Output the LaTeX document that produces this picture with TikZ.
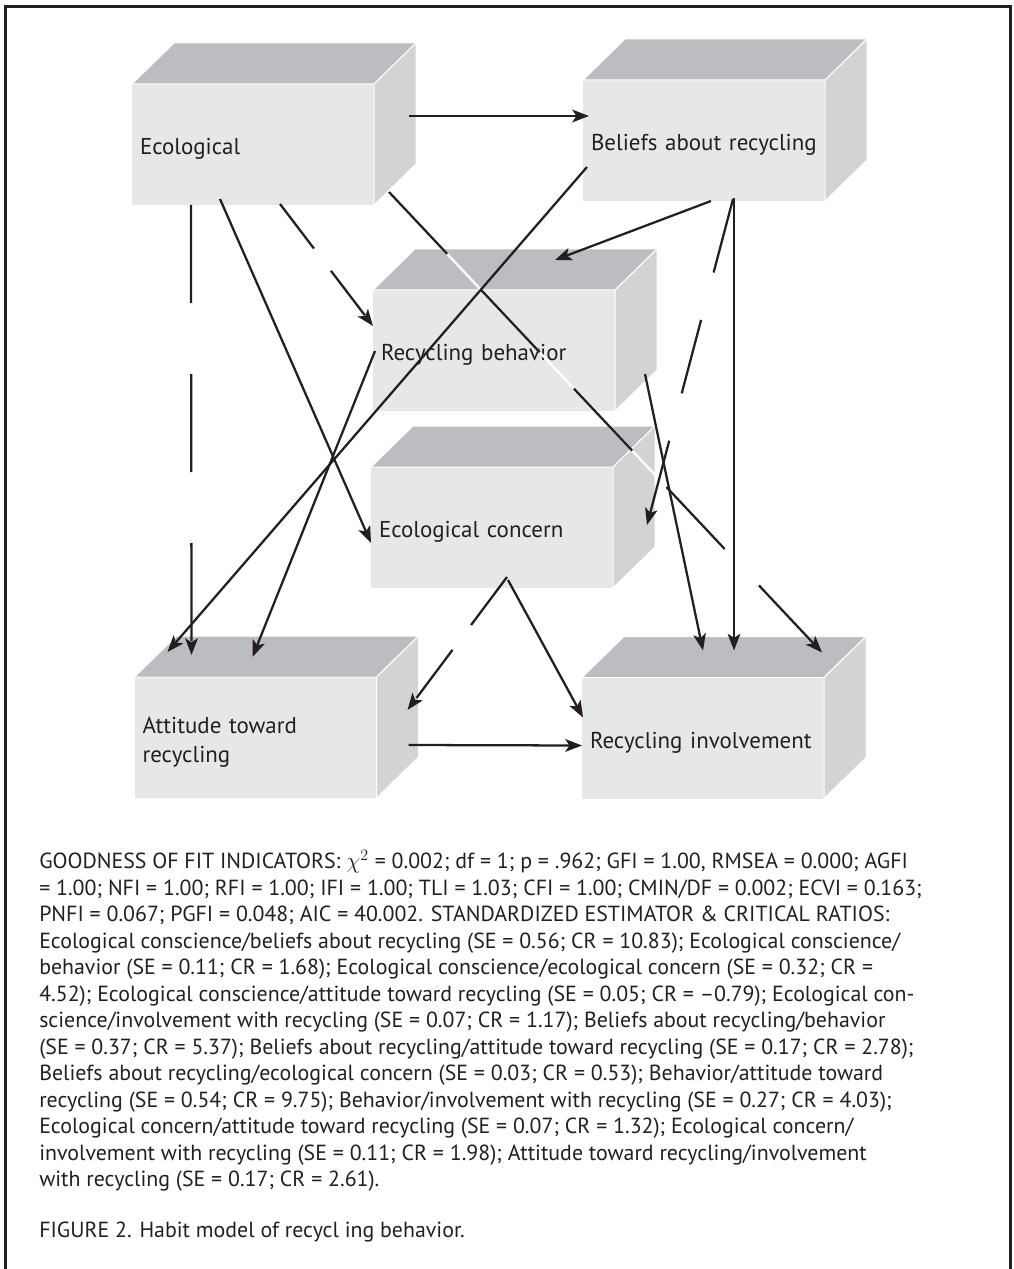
\documentclass[tikz,border=0pt]{standalone}
\usepackage{fontspec}
\setmainfont{PT Sans}
\usetikzlibrary{arrows.meta}
\definecolor{ink}{HTML}{231F20}
\definecolor{boxfront}{HTML}{E6E7E8}
\definecolor{boxtop}{HTML}{BCBDC0}
\definecolor{boxside}{HTML}{D1D3D4}

\begin{document}
\begin{tikzpicture}[x=0.75pt, y=-0.75pt,
		every node/.style={text=ink, font=\fontsize{17.2}{21.75}\selectfont},
		cube/.style={fill=boxfront, outer sep=0pt, inner ysep=0pt, inner xsep=6pt, text width=169.5pt, minimum height=90.75pt, align=left, text height=15pt, text depth=0pt},
		link/.style={draw=ink, line width=1.7pt, -{Stealth[length=12.5pt, width=9.5pt, inset=3pt]}},
		gapped/.style={link, dash pattern=#1}]
	\useasboundingbox (0,0) rectangle (1013,1269);
	\draw[ink, line width=2.25pt] (5,1269) -- (5,7) -- (1010,7) -- (1010,1269);

	\node[cube] (eco) at (253,144.5) {Ecological};
	\node[cube] (bel) at (704,140.5) {Beliefs about recycling};
	\node[cube] (beh) at (494,350.5) {Recycling behavior};
	\node[cube] (conc) at (492,527.5) {Ecological concern};
	\node[cube, text depth=21.75pt] (att) at (255.5,737.5) {Attitude toward\\recycling};
	\node[cube] (inv) at (703,738) {Recycling involvement};
	\foreach \b in {eco,bel,beh,conc,att,inv} {
		\filldraw[fill=boxtop, draw=white, line width=0.75pt] (\b.north west) -- ++(42,-41) -- ++(242,0) -- (\b.north east) -- cycle;
		\filldraw[fill=boxside, draw=white, line width=0.75pt] (\b.north east) -- ++(42,-41) -- ++(0,121) -- (\b.south east) -- cycle;
	}

	% paths of the habit model
	\draw[link] ([shift={(277,32)}]eco.north west) -- ([shift={(6,36)}]bel.north west);
	\draw[gapped={on 73.5pt off 53.25pt}] ([shift={(59,121)}]eco.north west) -- ([shift={(57,-22)}]att.north west);
	\draw[link] ([shift={(88,115)}]eco.north west) -- ([shift={(0,76)}]conc.north west);
	\draw[gapped={on 42pt off 21pt}] ([shift={(148,120)}]eco.north west) -- ([shift={(0,36)}]beh.north west);
	\draw[white, line width=1.7pt, shorten >=10pt] ([shift={(257,108)}]eco.north west) -- ([shift={(240,-25)}]inv.north west);
	\draw[gapped={on 63.75pt off 37.5pt}] ([shift={(257,108)}]eco.north west) -- ([shift={(240,-25)}]inv.north west);
	\draw[link] ([shift={(128,121)}]bel.north west) -- ([shift={(182,-30)}]beh.north west);
	\draw[link] ([shift={(4,87)}]bel.north west) -- ([shift={(33,-25)}]att.north west);
	\draw[link] ([shift={(151,118)}]bel.north west) -- ([shift={(152,-27)}]inv.north west);
	\draw[gapped={on 57pt off 36.75pt}] ([shift={(150,119)}]bel.north west) -- ([shift={(276,58)}]conc.north west);
	\draw[link] ([shift={(2,61)}]beh.north west) -- ([shift={(118,-20)}]att.north west);
	\draw[link] ([shift={(272,84)}]beh.north west) -- ([shift={(121,-27)}]inv.north west);
	\draw[gapped={on 45pt off 23.25pt}] ([shift={(136,110)}]conc.north west) -- ([shift={(273,33)}]att.north west);
	\draw[link] ([shift={(137,113)}]conc.north west) -- ([shift={(1,40)}]inv.north west);
	\draw[link] ([shift={(274,68)}]att.north west) -- ([shift={(0,68)}]inv.north west);

	\node[anchor=north west, align=left, inner sep=0pt, font=\fontsize{16.4}{19.85}\selectfont] (fit) at (39,850) {GOODNESS OF FIT INDICATORS: $\chi^2$ = 0.002; df = 1; p = .962; GFI = 1.00, RMSEA = 0.000; AGFI\\
		= 1.00; NFI = 1.00; RFI = 1.00; IFI = 1.00; TLI = 1.03; CFI = 1.00; CMIN/DF = 0.002; ECVI = 0.163;\\
		PNFI = 0.067; PGFI = 0.048; AIC = 40.002. STANDARDIZED ESTIMATOR \& CRITICAL RATIOS:\\
		Ecological conscience/beliefs about recycling (SE = 0.56; CR = 10.83); Ecological conscience/\\
		behavior (SE = 0.11; CR = 1.68); Ecological conscience/ecological concern (SE = 0.32; CR =\\
		4.52); Ecological conscience/attitude toward recycling (SE = 0.05; CR = --0.79); Ecological con-\\
		science/involvement with recycling (SE = 0.07; CR = 1.17); Beliefs about recycling/behavior\\
		(SE = 0.37; CR = 5.37); Beliefs about recycling/attitude toward recycling (SE = 0.17; CR = 2.78);\\
		Beliefs about recycling/ecological concern (SE = 0.03; CR = 0.53); Behavior/attitude toward\\
		recycling (SE = 0.54; CR = 9.75); Behavior/involvement with recycling (SE = 0.27; CR = 4.03);\\
		Ecological concern/attitude toward recycling (SE = 0.07; CR = 1.32); Ecological concern/\\
		involvement with recycling (SE = 0.11; CR = 1.98); Attitude toward recycling/involvement\\
		with recycling (SE = 0.17; CR = 2.61).};
	\node[anchor=base west, inner sep=0pt, font=\fontsize{16.4}{20}\selectfont] (cap) at (39,1237) {FIGURE 2. Habit model of recycl ing behavior.};
\end{tikzpicture}
\end{document}
